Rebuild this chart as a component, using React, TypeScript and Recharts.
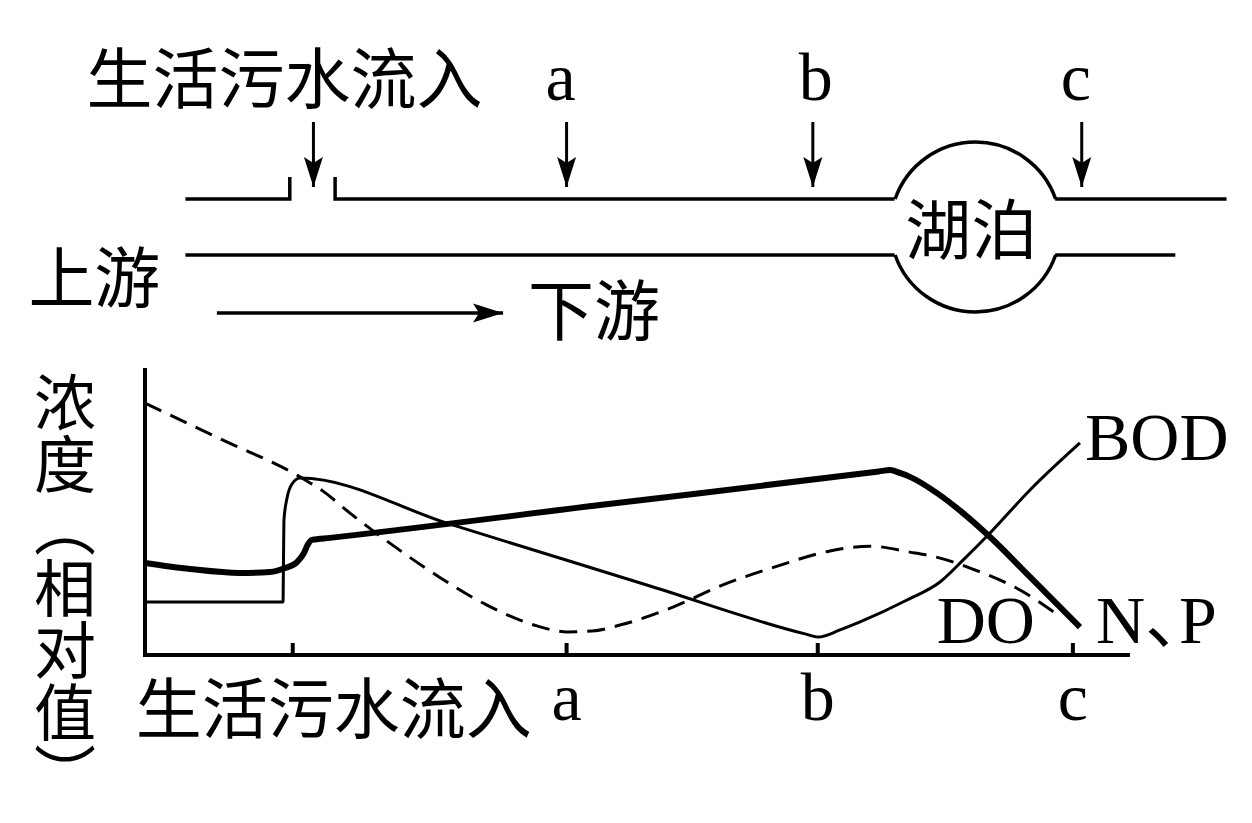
import React from 'react'
import { LineChart, Line, XAxis, YAxis, ReferenceDot } from 'recharts'

const W = 1252
const H = 823
const CJK = '"Noto Sans CJK SC", "Noto Sans CJK JP", sans-serif'
const LATIN = '"Liberation Serif", "Times New Roman", "Noto Sans CJK SC", serif'

// ---- lower chart: position along the river (0-100) vs relative concentration (0-100)
const siteTicks = [15.0, 42.8, 68.3, 94.2]
const siteLabels = ['生活污水流入', 'a', 'b', 'c']
const yTitle = '浓度（相对值）'

// thin solid line, ends at the BOD label
const bodCurve = [
  { x: 0, y: 18.6 }, { x: 14.01, y: 18.6 }, { x: 14.06, y: 33.3 }, { x: 14.11, y: 47.4 },
  { x: 14.42, y: 55.1 }, { x: 14.92, y: 60.0 }, { x: 15.74, y: 62.1 }, { x: 30.96, y: 45.9 },
  { x: 51.27, y: 24.2 }, { x: 67.01, y: 7.4 }, { x: 68.32, y: 6.3 }, { x: 70.56, y: 8.8 },
  { x: 72.59, y: 11.6 }, { x: 77.36, y: 19.3 }, { x: 80.71, y: 25.6 }, { x: 83.05, y: 33.3 },
  { x: 85.79, y: 42.8 }, { x: 89.85, y: 57.9 }, { x: 94.92, y: 74.4 },
]

// dashed line, ends next to the DO label
const doCurve = [
  { x: 0, y: 88.4 }, { x: 7.92, y: 75.4 }, { x: 15.74, y: 62.5 }, { x: 18.07, y: 57.5 },
  { x: 20.81, y: 49.8 }, { x: 25.28, y: 38.2 }, { x: 29.85, y: 27.4 }, { x: 34.72, y: 17.5 },
  { x: 39.8, y: 10.2 }, { x: 42.84, y: 8.1 }, { x: 45.38, y: 8.4 }, { x: 48.22, y: 10.5 },
  { x: 53.6, y: 16.8 }, { x: 58.68, y: 24.6 }, { x: 63.96, y: 30.9 }, { x: 69.54, y: 36.5 },
  { x: 73.6, y: 38.2 }, { x: 77.66, y: 36.1 }, { x: 80.71, y: 34.0 }, { x: 83.76, y: 30.5 },
  { x: 88.83, y: 22.8 }, { x: 92.69, y: 14.0 },
]

// thick line, ends at the N、P label
const npCurve = [
  { x: 0, y: 32.3 }, { x: 4.57, y: 30.2 }, { x: 9.64, y: 28.8 }, { x: 12.69, y: 29.1 },
  { x: 14.21, y: 30.5 }, { x: 15.43, y: 32.6 }, { x: 16.14, y: 35.8 }, { x: 16.55, y: 38.9 },
  { x: 16.95, y: 40.4 }, { x: 18.78, y: 41.1 }, { x: 46.19, y: 52.6 }, { x: 74.5, y: 64.4 },
  { x: 75.63, y: 64.9 }, { x: 76.7, y: 63.8 }, { x: 77.66, y: 62.5 }, { x: 80.41, y: 56.8 },
  { x: 83.05, y: 49.8 }, { x: 85.79, y: 41.4 }, { x: 89.85, y: 27.4 }, { x: 94.92, y: 9.8 },
]

// ---- upper sketch of the river (same x scale, y 0-24)
const upperBankLeft = [{ x: 4.1, y: 14.1 }, { x: 14.7, y: 14.1 }, { x: 14.7, y: 16.3 }]
const upperBankMid = [{ x: 19.3, y: 16.3 }, { x: 19.3, y: 14.1 }, { x: 76.1, y: 14.1 }]
const upperBankRight = [{ x: 92.4, y: 14.1 }, { x: 109.8, y: 14.1 }]
const lowerBankLeft = [{ x: 4.1, y: 8.5 }, { x: 76.1, y: 8.5 }]
const lowerBankRight = [{ x: 92.4, y: 8.5 }, { x: 104.6, y: 8.5 }]
const inflowArrow = [{ x: 17.1, y: 21.8 }, { x: 17.1, y: 15.3 }]
const arrowA = [{ x: 42.8, y: 21.8 }, { x: 42.8, y: 15.3 }]
const arrowB = [{ x: 67.8, y: 21.8 }, { x: 67.8, y: 15.3 }]
const arrowC = [{ x: 95.1, y: 21.8 }, { x: 95.1, y: 15.3 }]
const flowArrow = [{ x: 7.3, y: 2.7 }, { x: 36.35, y: 2.7 }]
const lakeCenter = { x: 84.3, y: 11.3 }

type Tag = { text: string; at: number; dx: number; dy: number; anchor?: 'start' | 'middle' | 'end'; font?: string; size?: number }

function marks(name: string, lastIndex: number, head: 'down' | 'right' | null, tags: Tag[]) {
  return (p: any) => {
    const { cx, cy, index } = p
    const key = `${name}-${index}`
    if (cx == null || cy == null) return <g key={key} />
    const parts: React.ReactNode[] = []
    if (head && index === lastIndex) {
      const d =
        head === 'down'
          ? `M${cx},${cy} L${cx - 9.5},${cy - 30} L${cx},${cy - 24} L${cx + 9.5},${cy - 30} Z`
          : `M${cx},${cy} L${cx - 30},${cy - 9.5} L${cx - 24},${cy} L${cx - 30},${cy + 9.5} Z`
      parts.push(<path key="h" d={d} fill="#000" stroke="none" />)
    }
    tags
      .filter((t) => t.at === index)
      .forEach((t, i) =>
        parts.push(
          <text
            key={`t${i}`}
            x={cx + t.dx}
            y={cy + t.dy}
            textAnchor={t.anchor ?? 'middle'}
            fontFamily={t.font ?? CJK}
            fontSize={t.size ?? 66}
            fill="#000"
            // half-width punctuation so the 、 in "N、P" sits tight
            style={{ fontFeatureSettings: '"halt"' }}
          >
            {t.text}
          </text>
        )
      )
    return <g key={key}>{parts}</g>
  }
}

function SiteTick(p: any) {
  const i = p.index ?? siteTicks.indexOf(p.payload?.value)
  const cjk = i === 0
  return (
    <text
      x={p.x + (cjk ? 41 : 0)}
      y={p.y + (cjk ? 90 : 77)}
      textAnchor="middle"
      fontFamily={cjk ? CJK : LATIN}
      fontSize={cjk ? 66 : 68}
      fill="#000"
    >
      {siteLabels[i] ?? ''}
    </text>
  )
}

function YTitle(p: any) {
  const vb = p.viewBox ?? { x: 135, y: 370 }
  return (
    <text
      x={vb.x - 70}
      y={vb.y + 1}
      fontFamily={CJK}
      fontSize={62}
      fill="#000"
      style={{ writingMode: 'vertical-rl', textOrientation: 'upright', fontFeatureSettings: '"vert"' }}
    >
      {yTitle}
    </text>
  )
}

function LakeShape(p: any) {
  const { cx, cy } = p
  const r = 85
  const g = 28
  const dx = Math.sqrt(r * r - g * g)
  return (
    <g>
      <path
        d={`M${cx - dx},${cy - g} A${r},${r} 0 0 1 ${cx + dx},${cy - g} M${cx - dx},${cy + g} A${r},${r} 0 0 0 ${cx + dx},${cy + g}`}
        fill="none"
        stroke="#000"
        strokeWidth={3.5}
      />
      <text x={cx - 4} y={cy + 27} textAnchor="middle" fontFamily={CJK} fontSize={66} fill="#000">
        湖泊
      </text>
    </g>
  )
}

const bank = { stroke: '#000', strokeWidth: 3.5, dot: false as const, isAnimationActive: false, type: 'linear' as const }

export default function App() {
  return (
    <div style={{ position: 'absolute', left: 0, top: 0, width: W, height: H, background: '#fff' }}>
      <div style={{ position: 'absolute', left: 0, top: 0 }}>
        <LineChart width={W} height={H} margin={{ top: 370, right: 122, bottom: 68, left: 135 }}>
          <XAxis
            type="number"
            dataKey="x"
            domain={[0, 100]}
            ticks={siteTicks}
            interval={0}
            height={100}
            tickSize={-12}
            tickMargin={0}
            axisLine={{ stroke: '#000', strokeWidth: 4 }}
            tickLine={{ stroke: '#000', strokeWidth: 4 }}
            tick={SiteTick}
          />
          <YAxis
            type="number"
            domain={[0, 100]}
            width={10}
            tick={false}
            tickLine={false}
            axisLine={{ stroke: '#000', strokeWidth: 4, strokeLinecap: 'square' }}
            label={<YTitle />}
          />
          <Line
            data={npCurve}
            dataKey="y"
            type="monotone"
            stroke="#000"
            strokeWidth={6}
            isAnimationActive={false}
            dot={marks('np', npCurve.length - 1, null, [
              { text: 'N、P', at: npCurve.length - 1, dx: 16, dy: 16, anchor: 'start', font: LATIN, size: 68 },
            ])}
          />
          <Line
            data={bodCurve}
            dataKey="y"
            type="monotone"
            stroke="#000"
            strokeWidth={3}
            isAnimationActive={false}
            dot={marks('bod', bodCurve.length - 1, null, [
              { text: 'BOD', at: bodCurve.length - 1, dx: 5, dy: 17, anchor: 'start', font: LATIN, size: 68 },
            ])}
          />
          <Line
            data={doCurve}
            dataKey="y"
            type="monotone"
            stroke="#000"
            strokeWidth={3}
            strokeDasharray="18 10"
            isAnimationActive={false}
            dot={marks('do', doCurve.length - 1, null, [
              { text: 'DO', at: doCurve.length - 1, dx: -23, dy: 28, anchor: 'end', font: LATIN, size: 68 },
            ])}
          />
        </LineChart>
      </div>
      <div style={{ position: 'absolute', left: 0, top: 0 }}>
        <LineChart width={W} height={H} margin={{ top: 100, right: 23.5, bottom: 483, left: 145 }}>
          <XAxis type="number" dataKey="x" domain={[0, 110]} hide />
          <YAxis type="number" domain={[0, 24]} hide />
          <Line data={upperBankLeft} dataKey="y" {...bank} />
          <Line data={upperBankMid} dataKey="y" {...bank} />
          <Line data={upperBankRight} dataKey="y" {...bank} />
          <Line
            data={lowerBankLeft}
            dataKey="y"
            {...bank}
            dot={marks('lowerLeft', 1, null, [{ text: '上游', at: 0, dx: -25, dy: 47, anchor: 'end' }])}
          />
          <Line data={lowerBankRight} dataKey="y" {...bank} />
          <Line
            data={inflowArrow}
            dataKey="y"
            {...bank}
            strokeWidth={3}
            dot={marks('inflow', 1, 'down', [{ text: '生活污水流入', at: 0, dx: -29, dy: -19 }])}
          />
          <Line
            data={arrowA}
            dataKey="y"
            {...bank}
            strokeWidth={3}
            dot={marks('arrowA', 1, 'down', [{ text: 'a', at: 0, dx: -6, dy: -22, font: LATIN, size: 68 }])}
          />
          <Line
            data={arrowB}
            dataKey="y"
            {...bank}
            strokeWidth={3}
            dot={marks('arrowB', 1, 'down', [{ text: 'b', at: 0, dx: 3, dy: -22, font: LATIN, size: 68 }])}
          />
          <Line
            data={arrowC}
            dataKey="y"
            {...bank}
            strokeWidth={3}
            dot={marks('arrowC', 1, 'down', [{ text: 'c', at: 0, dx: -6, dy: -22, font: LATIN, size: 68 }])}
          />
          <Line
            data={flowArrow}
            dataKey="y"
            {...bank}
            dot={marks('flow', 1, 'right', [{ text: '下游', at: 1, dx: 25, dy: 22, anchor: 'start' }])}
          />
          <ReferenceDot x={lakeCenter.x} y={lakeCenter.y} r={85} shape={LakeShape} />
        </LineChart>
      </div>
    </div>
  )
}
